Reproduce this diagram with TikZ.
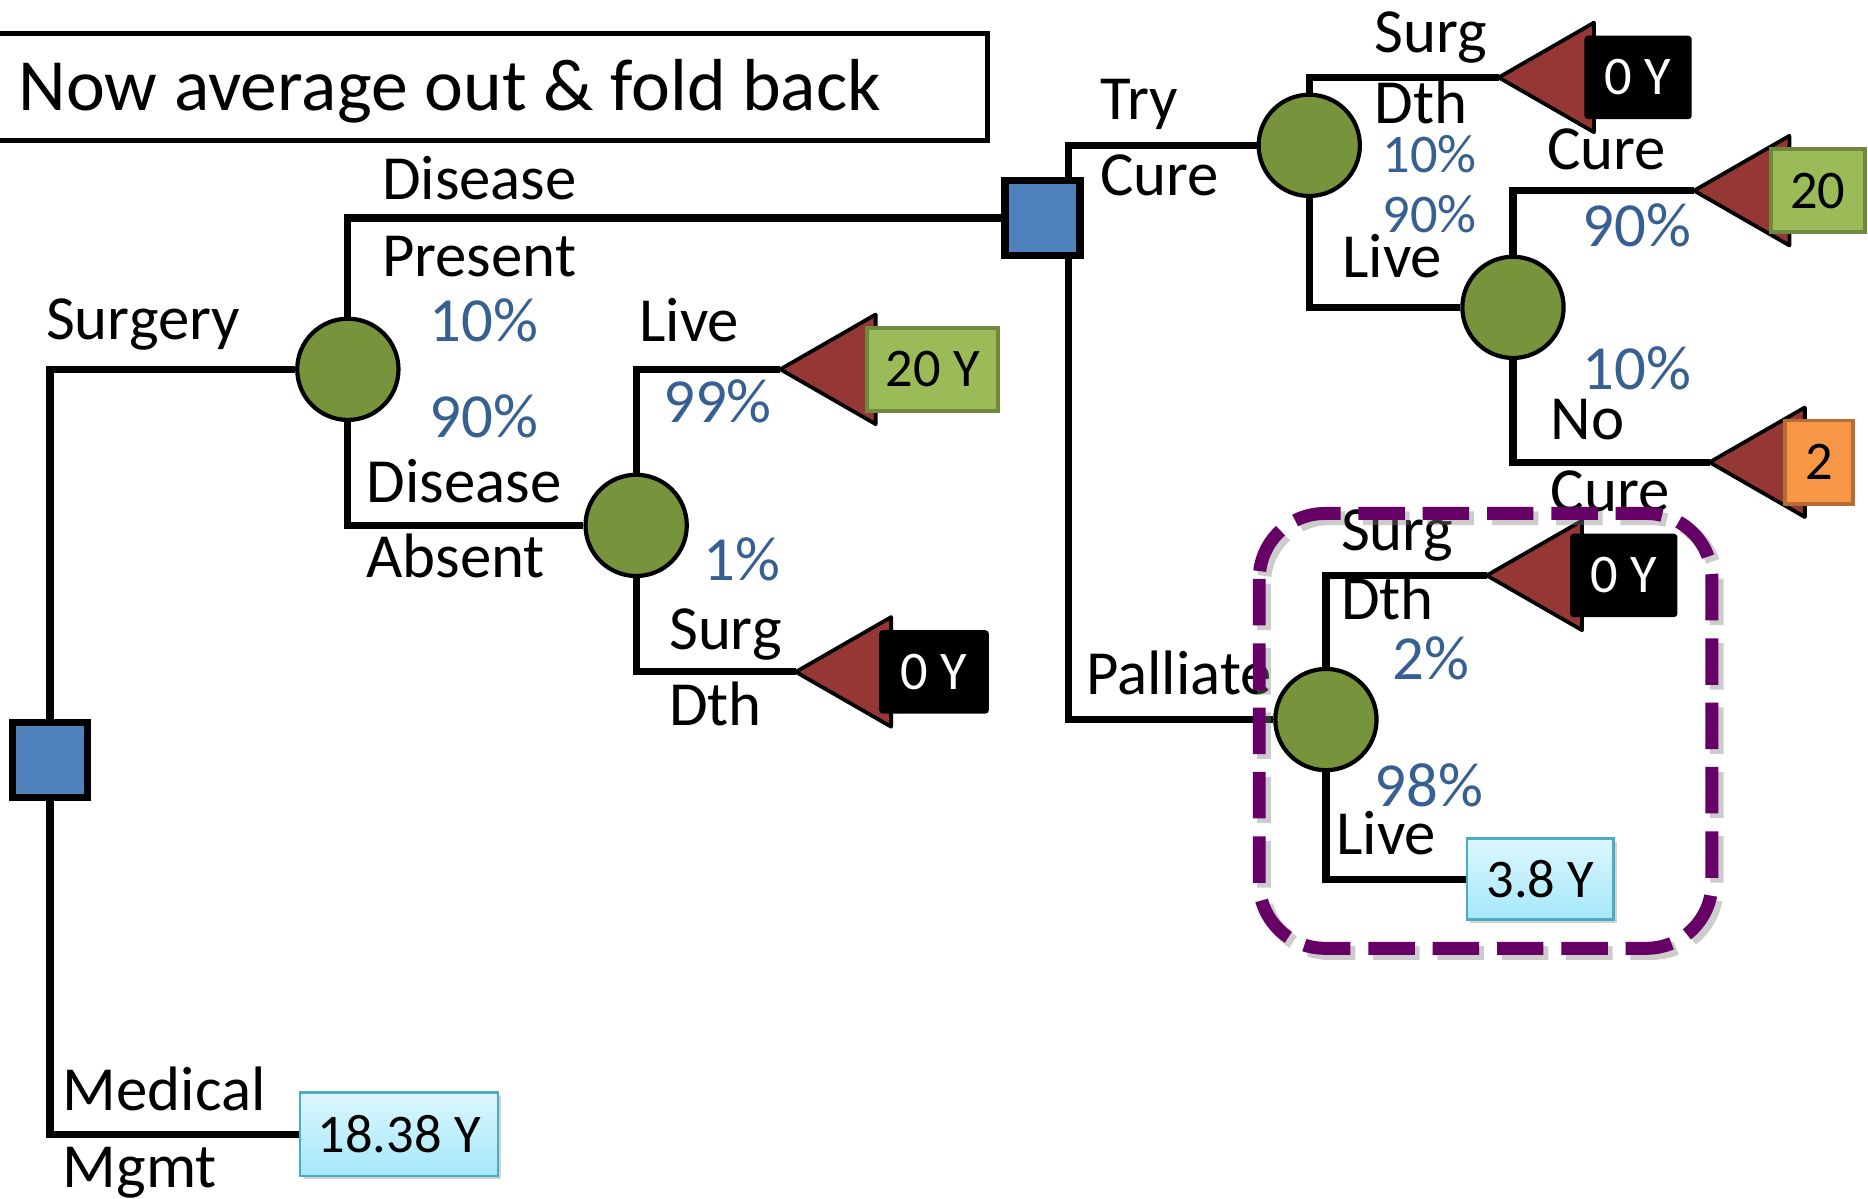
\documentclass[tikz,border=0pt]{standalone}
\usepackage{fontspec}
\setmainfont{Carlito}
\usetikzlibrary{positioning,shadows}
\definecolor{decblue}{RGB}{79,129,189}
\definecolor{chgreen}{RGB}{119,147,60}
\definecolor{trired}{RGB}{149,55,53}
\definecolor{pctblue}{RGB}{55,96,146}
\definecolor{valgreen}{RGB}{155,187,89}
\definecolor{valgreenline}{RGB}{113,137,63}
\definecolor{valorange}{RGB}{247,150,70}
\definecolor{valorangeline}{RGB}{182,109,49}
\definecolor{cyanline}{RGB}{75,172,198}
\definecolor{cyantop}{RGB}{220,247,253}
\definecolor{cyanbot}{RGB}{165,232,250}
\definecolor{boxpurple}{RGB}{102,0,102}
\pgfdeclarelayer{bg}
\pgfsetlayers{bg,main}

\begin{document}
\begin{tikzpicture}[x=0.1mm,y=-0.1mm,
  decision/.style={draw,fill=decblue,line width=1.8pt,minimum size=6.3mm,inner sep=0},
  chance/.style={draw,circle,fill=chgreen,line width=1pt,minimum size=8.5mm,inner sep=0},
  tri/.style={draw,fill=trired,line width=0.9pt,line join=round},
  branch/.style={line width=1.7pt},
  lbl/.style={anchor=west,inner sep=0,font=\fontsize{15}{18}\selectfont,text height=9.7pt,text depth=0pt},
  pct/.style={lbl,text=pctblue},
  smallpct/.style={pct,font=\fontsize{13}{16}\selectfont,text height=8.4pt},
  valbox/.style={inner sep=0,font=\fontsize{13}{16}\selectfont,minimum height=7mm},
  blackval/.style={valbox,fill=black,text=white,rounded corners=0.8pt},
  greenval/.style={valbox,fill=valgreen,draw=valgreenline,line width=0.9pt},
  orangeval/.style={valbox,fill=valorange,draw=valorangeline,line width=0.9pt},
  cyanval/.style={valbox,top color=cyantop,bottom color=cyanbot,draw=cyanline,line width=0.6pt,
    drop shadow={shadow xshift=0.8pt,shadow yshift=-0.8pt,opacity=0.35}}]
\useasboundingbox (0,0) rectangle (1568,1006);

% title
\draw[line width=1.1pt] (-10,28) rectangle (829,118);
\node[lbl,font=\fontsize{17.6}{22}\selectfont,text height=11.4pt] (title) at (15,73) {Now average out \& fold back};

% decision and chance nodes
\path (42,638)   node[decision] (D1) {};
\path (875,183)  node[decision] (D2) {};
\path (292,310)  node[chance] (C1) {};
\path (534,441)  node[chance] (C2) {};
\path (1099,122) node[chance] (C3) {};
\path (1113,604) node[chance] (C4) {};
\path (1270,258) node[chance] (C5) {};

% terminal tips
\coordinate (T1) at (655,310);
\coordinate (T2) at (668,564);
\coordinate (T3) at (1258,65);
\coordinate (T4) at (1422,160);
\coordinate (T5) at (1435,388);
\coordinate (T6) at (1248,483);

\foreach \t in {T1,T2,T3,T4,T5,T6}
  \draw[tri] (\t) -- ++(80,-46) -- ++(0,92) -- cycle;

% values
\node[greenval,minimum width=11mm]   (V20a) at (783,310)  {20 Y};
\node[blackval,minimum width=9.2mm]  (V0a)  at (784,564)  {0 Y};
\node[blackval,minimum width=9mm]    (V0b)  at (1375,65)  {0 Y};
\node[greenval,minimum width=7.9mm]  (V20b) at (1526,160) {20};
\node[orangeval,minimum width=5.7mm] (V2)   at (1527,388) {2};
\node[blackval,minimum width=9mm]    (V0c)  at (1363,483) {0 Y};
\node[cyanval,minimum width=12.3mm,minimum height=6.8mm] (V3) at (1293,738) {3.8 Y};
\node[cyanval,minimum width=16.6mm] (V1) at (335,952) {18.38 Y};

\begin{pgfonlayer}{bg}
\draw[branch] (D1) |- (C1);
\draw[branch] (D1) |- (V1);
\draw[branch] (C1) |- (D2);
\draw[branch] (C1) |- (C2);
\draw[branch] (C2) |- (T1);
\draw[branch] (C2) |- (T2);
\draw[branch] ([xshift=2.2mm]D2.center) |- (C3);
\draw[branch] ([xshift=2.2mm]D2.center) |- (C4);
\draw[branch] (C3) |- (T3);
\draw[branch] (C3) |- (C5);
\draw[branch] (C5) |- (T4);
\draw[branch] (C5) |- (T5);
\draw[branch] (C4) |- (T6);
\draw[branch] (C4) |- (V3);
\end{pgfonlayer}

% labels
\node[lbl] (lSurgery) at (38,268)  {Surgery};
\node[lbl] (lMed)     at (52,915)  {Medical};
\node[lbl] (lMgmt)    at (52,980)  {Mgmt};
\node[lbl] (lDis1)    at (320,150) {Disease};
\node[lbl] (lPres)    at (320,215) {Present};
\node[pct] (p10a)     at (360,270) {10\%};
\node[pct] (p90a)     at (360,350) {90\%};
\node[lbl] (lDis2)    at (307,405) {Disease};
\node[lbl] (lAbs)     at (307,468) {Absent};
\node[lbl] (lLive1)   at (536,270) {Live};
\node[pct] (p99)      at (556,338) {99\%};
\node[pct] (p1)       at (590,470) {1\%};
\node[lbl] (lSurg1)   at (561,528) {Surg};
\node[lbl] (lDth1)    at (561,592) {Dth};
\node[lbl] (lTry)     at (923,83)  {Try};
\node[lbl] (lCure1)   at (923,147) {Cure};
\node[lbl] (lPall)    at (911,566) {Palliate};
\node[lbl] (lSurg2)   at (1153,27) {Surg};
\node[lbl] (lDth2)    at (1153,87) {Dth};
\node[smallpct] (p10b) at (1160,130) {10\%};
\node[smallpct] (p90b) at (1160,180) {90\%};
\node[lbl] (lLive2)   at (1126,216) {Live};
\node[lbl] (lCure2)   at (1298,125) {Cure};
\node[pct] (p90c)     at (1328,190) {90\%};
\node[pct] (p10c)     at (1328,310) {10\%};
\node[lbl] (lNo)      at (1301,352) {No};
\node[lbl] (lCure3)   at (1301,412) {Cure};
\node[lbl] (lSurg3)   at (1125,445) {Surg};
\node[lbl] (lDth3)    at (1125,503) {Dth};
\node[pct] (p2)       at (1168,553) {2\%};
\node[pct] (p98)      at (1153,660) {98\%};
\node[lbl] (lLive3)   at (1121,700) {Live};

% highlight
\draw[gray,opacity=0.4,line width=3.3pt,dash pattern=on 3.9mm off 1.5mm,rounded corners=5.5mm]
  (1061,435) rectangle (1441,800);
\draw[boxpurple,line width=3.1pt,dash pattern=on 3.9mm off 1.5mm,rounded corners=5.5mm]
  (1057,431) rectangle (1437,796);
\end{tikzpicture}
\end{document}
